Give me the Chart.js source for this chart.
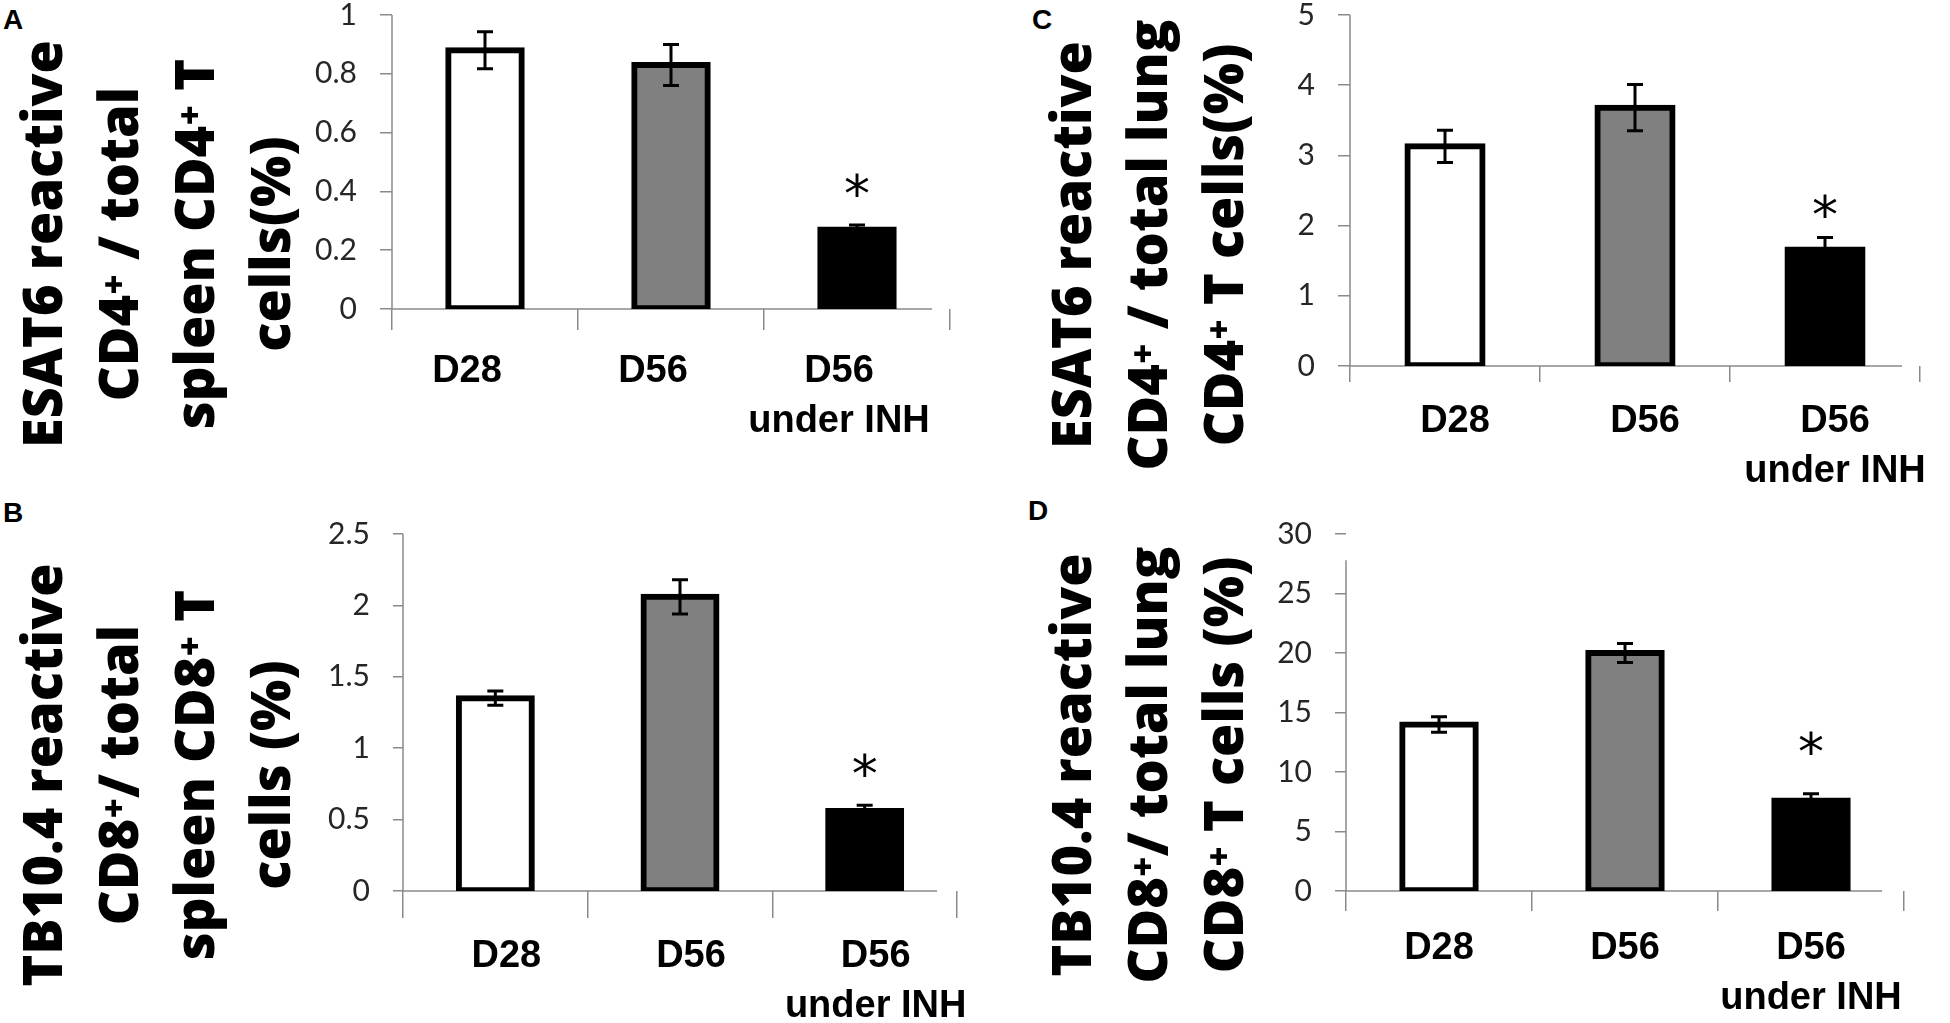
<!DOCTYPE html>
<html>
<head>
<meta charset="utf-8">
<script src="https://cdn.jsdelivr.net/npm/chart.js@4.4.0/dist/chart.umd.min.js"></script>
<style>
html, body { margin: 0; padding: 0; background: #ffffff; }
body { width: 1950px; height: 1023px; position: relative; overflow: hidden; }
.panel { position: absolute; }
.letter { position: absolute; font-family: "Liberation Sans", Arial, sans-serif; font-weight: bold; font-size: 28px; line-height: 28px; color: #000; }
</style>
</head>
<body>
<div class="letter" style="left:3px;top:6px">A</div>
<div class="letter" style="left:3px;top:499px">B</div>
<div class="letter" style="left:1032px;top:6px">C</div>
<div class="letter" style="left:1028px;top:497px">D</div>

<div class="panel" style="left:0px;top:0px;width:975px;height:503px"><canvas id="chartA"></canvas></div>
<div class="panel" style="left:0px;top:503px;width:975px;height:520px"><canvas id="chartB"></canvas></div>
<div class="panel" style="left:975px;top:0px;width:975px;height:503px"><canvas id="chartC"></canvas></div>
<div class="panel" style="left:975px;top:503px;width:975px;height:520px"><canvas id="chartD"></canvas></div>

<script>
// ---------------- data ----------------
const categories = ['D28', 'D56', ['D56', 'under INH']];
const significance = ['', '', '*'];

const spleenCD4Values = [0.88, 0.83, 0.27];
const spleenCD4Errors = [0.063, 0.07, 0.016];
const spleenCD4Ticks  = [0, 0.2, 0.4, 0.6, 0.8, 1];
const spleenCD4Title  = ['ESAT6 reactive', 'CD4\u207A / total', 'spleen CD4\u207A T', 'cells(%)'];

const spleenCD8Values = [1.35, 2.06, 0.56];
const spleenCD8Errors = [0.05, 0.12, 0.04];
const spleenCD8Ticks  = [0, 0.5, 1, 1.5, 2, 2.5];
const spleenCD8Title  = ['TB10.4 reactive', 'CD8\u207A/ total', 'spleen CD8\u207A T', 'cells (%)'];

const lungCD4Values = [3.13, 3.68, 1.66];
const lungCD4Errors = [0.23, 0.33, 0.17];
const lungCD4Ticks  = [0, 1, 2, 3, 4, 5];
const lungCD4Title  = ['ESAT6 reactive', 'CD4\u207A / total lung', 'CD4\u207A T cells(%)'];

const lungCD8Values = [14.0, 20.0, 7.6];
const lungCD8Errors = [0.65, 0.8, 0.58];
const lungCD8Ticks  = [0, 5, 10, 15, 20, 25, 30];
const lungCD8Title  = ['TB10.4 reactive', 'CD8\u207A/ total lung', 'CD8\u207A T cells (%)'];

// ---------------- style ----------------
const barFills = ['#ffffff', '#808080', '#000000'];
const AXIS = '#8a8a8a';

// axis lines (zero line and value axis) drawn beneath the bars
const axisLinePlugin = {
  id: 'axisLines',
  afterLayout(chart) {
    // let multi-line category labels extend below the scale box
    chart.scales.x.bottom = chart.height;
  },
  beforeDatasetsDraw(chart, args, opts) {
    const ctx = chart.ctx;
    const y = chart.scales.y;
    const { left, right, bottom } = chart.chartArea;
    const top = y.getPixelForValue(opts.topValue);
    ctx.save();
    ctx.strokeStyle = AXIS;
    ctx.lineWidth = 1.5;
    ctx.beginPath();
    ctx.moveTo(left, bottom);
    ctx.lineTo(right - opts.trim, bottom);
    ctx.moveTo(left, top);
    ctx.lineTo(left, bottom);
    ctx.stroke();
    ctx.restore();
  }
};

const errorBarPlugin = {
  id: 'errorBars',
  afterDatasetsDraw(chart, args, opts) {
    const ctx = chart.ctx;
    const y = chart.scales.y;
    const ds = chart.data.datasets[0];
    const meta = chart.getDatasetMeta(0);
    ctx.save();
    ctx.strokeStyle = '#000';
    ctx.lineWidth = 3;
    meta.data.forEach((bar, i) => {
      const v = ds.data[i], e = ds.errors[i];
      const x = bar.x;
      const yt = y.getPixelForValue(v + e);
      const yb = y.getPixelForValue(v - e);
      ctx.beginPath();
      ctx.moveTo(x, yt); ctx.lineTo(x, yb);
      ctx.moveTo(x - 8, yt); ctx.lineTo(x + 8, yt);
      ctx.moveTo(x - 8, yb); ctx.lineTo(x + 8, yb);
      ctx.stroke();
      const mark = ds.marks[i];
      if (mark) {
        ctx.font = '52px "DejaVu Sans", sans-serif';
        ctx.fillStyle = '#000';
        ctx.textAlign = 'center';
        ctx.textBaseline = 'alphabetic';
        const m = ctx.measureText(mark);
        const cy = yt - opts.gap;
        const base = cy + (m.actualBoundingBoxAscent - m.actualBoundingBoxDescent) / 2;
        ctx.fillText(mark, x, base);
      }
    });
    ctx.restore();
  }
};

function makeChart(id, values, errors, ticks, title, L) {
  const ctx = document.getElementById(id);
  return new Chart(ctx, {
    type: 'bar',
    data: {
      labels: categories,
      datasets: [{
        data: values,
        errors: errors,
        marks: significance,
        backgroundColor: barFills,
        borderColor: '#000000',
        borderWidth: 6,
        borderSkipped: false,
        inflateAmount: 3,
        barPercentage: 0.395,
        categoryPercentage: 1.0
      }]
    },
    options: {
      responsive: true,
      maintainAspectRatio: false,
      animation: false,
      events: [],
      layout: { autoPadding: false, padding: L.pad },
      plugins: {
        legend: { display: false },
        tooltip: { enabled: false },
        title: {
          display: true,
          position: 'left',
          align: 'center',
          text: title,
          color: '#000000',
          font: { family: '"Open Sans", "DejaVu Sans", sans-serif', size: 54, weight: 800, lineHeight: '76px' },
          padding: { top: L.titlePad, bottom: 0 }
        },
        errorBars: { gap: L.starGap },
        axisLines: { trim: L.axisTrim, topValue: L.axisTop !== undefined ? L.axisTop : ticks[ticks.length - 1] }
      },
      scales: {
        x: {
          type: 'category',
          afterFit: (s) => { s.height = L.xH; s.paddingLeft = 0; s.paddingRight = 0; },
          grid: {
            offset: true,
            drawOnChartArea: false,
            drawTicks: true,
            tickLength: L.xTick,
            lineWidth: 1.5,
            color: (c) => (c.index === 3 ? 'rgba(0,0,0,0)' : AXIS)
          },
          border: { display: false },
          ticks: {
            padding: L.xPad,
            labelOffset: L.labelOffset,
            maxRotation: 0,
            autoSkip: false,
            color: '#000000',
            font: { family: '"Liberation Sans", Arial, sans-serif', size: 38, weight: 'bold', lineHeight: '50px' }
          }
        },
        y: {
          type: 'linear',
          min: ticks[0],
          max: ticks[ticks.length - 1],
          afterFit: (s) => { s.width = L.yW; s.paddingTop = 0; s.paddingBottom = 0; },
          afterBuildTicks: (s) => { s.ticks = ticks.map(v => ({ value: v })); },
          grid: {
            drawOnChartArea: false,
            drawTicks: true,
            tickLength: L.yTick,
            lineWidth: 1.5,
            color: AXIS
          },
          border: { display: false },
          ticks: {
            padding: L.yPad,
            color: '#262626',
            callback: (v) => String(v),
            font: { family: 'Lato, "Open Sans", sans-serif', size: 30, lineHeight: 1 }
          }
        }
      }
    },
    plugins: [axisLinePlugin, errorBarPlugin]
  });
}

makeChart('chartA', spleenCD4Values, spleenCD4Errors, spleenCD4Ticks, spleenCD4Title,
  { pad: { left: 0, top: 15, right: 25, bottom: 30 }, titlePad: 9, yW: 79, xH: 164,
    xTick: 21, xPad: 17, yTick: 12, yPad: 23, labelOffset: -18, starGap: 40, axisTrim: 18 });

makeChart('chartB', spleenCD8Values, spleenCD8Errors, spleenCD8Ticks, spleenCD8Title,
  { pad: { left: 0, top: 31, right: 18, bottom: 7 }, titlePad: 9, yW: 90, xH: 125,
    xTick: 27, xPad: 14, yTick: 10, yPad: 23, labelOffset: 11, starGap: 40, axisTrim: 20 });

makeChart('chartC', lungCD4Values, lungCD4Errors, lungCD4Ticks, lungCD4Title,
  { pad: { left: 0, top: 15, right: 30, bottom: 28 }, titlePad: 63, yW: 84, xH: 109,
    xTick: 16, xPad: 15, yTick: 12, yPad: 23, labelOffset: 10, starGap: 32, axisTrim: 18 });

makeChart('chartD', lungCD8Values, lungCD8Errors, lungCD8Ticks, lungCD8Title,
  { pad: { left: 0, top: 31, right: 46, bottom: 27 }, titlePad: 63, yW: 80, xH: 105,
    xTick: 20, xPad: 13, yTick: 11, yPad: 23, labelOffset: 0, starGap: 51, axisTrim: 22, axisTop: 27.8 });
</script>
</body>
</html>
